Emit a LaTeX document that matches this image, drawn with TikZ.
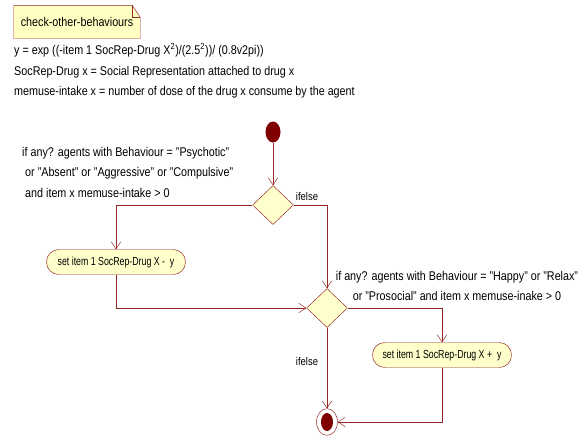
\documentclass[tikz,border=0pt]{standalone}
\usepackage{fontspec}
\setmainfont{Liberation Sans}[FakeStretch=0.85]
\usepackage{tikz}
\usepackage{xcolor}
\usetikzlibrary{arrows.meta,positioning,shapes.geometric,backgrounds}
\definecolor{umlline}{RGB}{150,40,40}
\definecolor{umlfill}{RGB}{255,255,204}
\definecolor{umldark}{RGB}{128,0,0}
\definecolor{notefill}{RGB}{255,255,196}

\begin{document}
\begin{tikzpicture}[
x=0.03cm, y=-0.03cm,
font=\fontsize{10.8}{17.5}\selectfont,
decision/.style={diamond, draw=umlline, fill=umlfill, minimum width=1.23cm, minimum height=1.17cm, inner sep=0},
action/.style={draw=umlline, fill=umlfill, rounded corners=0.37cm, minimum width=4.17cm, minimum height=0.75cm, inner sep=0, font=\fontsize{10}{12}\selectfont\addfontfeature{FakeStretch=0.75}},
arrow/.style={-{Straight Barb[length=6pt,width=8pt]}, umlline},
txt/.style={inner sep=0, align=left}
]
\useasboundingbox (0,0) rectangle (586,436);
% note and formulas
\node[minimum width=3.78cm, minimum height=0.99cm, inner sep=0] (note) at (77,22) {check-other-behaviours};
\begin{scope}[on background layer]
\draw[umlline, fill=notefill] (note.south west) -- (note.north west) -- ([xshift=-0.24cm]note.north east)
  -- ([yshift=-0.36cm]note.north east) -- (note.south east) -- cycle;
\draw[umlline] ([xshift=-0.24cm]note.north east) |- ([yshift=-0.36cm]note.north east);
\end{scope}
\node[txt, anchor=west] (defs) at (14,71) {y = exp ((-item 1 SocRep-Drug X\textsuperscript{2})/(2.5\textsuperscript{2}))/ (0.8v2pi))\\
SocRep-Drug x = Social Representation attached to drug x\\
memuse-intake x = number of dose of the drug x consume by the agent};
% activity
\node[ellipse, fill=umldark, minimum width=0.45cm, minimum height=0.63cm, inner sep=0] (start) at (273,132) {};
\node[decision] (d1) at (273,205) {};
\node[action] (act1) at (116,262) {set item 1 SocRep-Drug X -\ \ y};
\node[decision] (m1) at (327,308) {};
\node[action] (act2) at (442,355) {set item 1 SocRep-Drug X +\ \ y};
\node[ellipse, draw=umlline, fill=white, minimum width=0.63cm, minimum height=0.8cm, inner sep=0] (fin) at (327,422) {};
\node[ellipse, fill=umldark, minimum width=0.36cm, minimum height=0.54cm, inner sep=0] (finin) at (fin.center) {};
% conditions
\node[txt, anchor=west] (cond1) at (22,172) {if any? agents with Behaviour = "Psychotic"\\
\ or "Absent" or "Aggressive" or "Compulsive"\\
\ and item x memuse-intake > 0};
\node[inner sep=0, align=center] (cond2) at (457,286) {if any? agents with Behaviour = "Happy" or "Relax"\\
or "Prosocial" and item x memuse-inake > 0};
\node[inner sep=0, font=\fontsize{9.5}{11}\selectfont] (else1) at (307,197) {ifelse};
\node[inner sep=0, font=\fontsize{9.5}{11}\selectfont] (else2) at (307,362) {ifelse};
% flows
\draw[arrow] (start) -- (d1.north);
\draw[arrow] (d1.west) -| (act1.north);
\draw[arrow] (d1.east) -| (m1.north);
\draw[arrow] (act1.south) |- (m1.west);
\draw[arrow] (m1.east) -| (act2.north);
\draw[arrow] (act2.south) |- (fin.east);
\draw[arrow] (m1.south) -- (fin.north);
\end{tikzpicture}
\end{document}
